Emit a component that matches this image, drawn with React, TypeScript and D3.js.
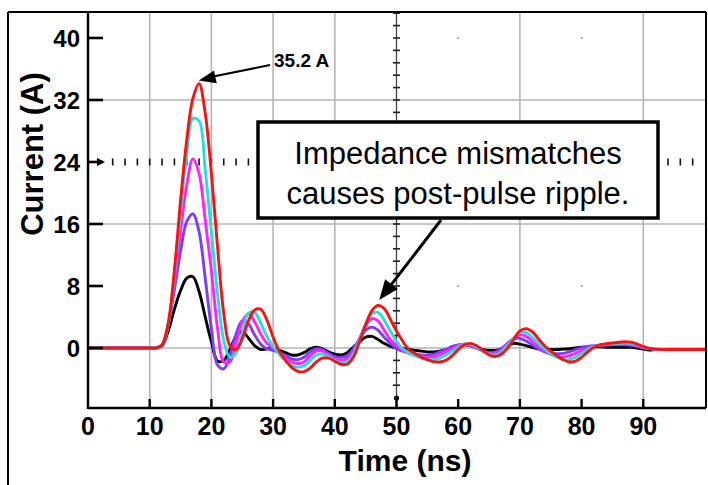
import * as d3 from 'd3'

const W = 708, H = 485

// time axis (ns)
const TIME = [
  0, 5,
  10, 11, 12, 13, 14, 15, 16, 17, 18, 19,
  20, 21, 22, 23, 24, 25, 26, 27, 28, 29,
  30, 31, 32, 33, 34, 35, 36, 37, 38, 39,
  40, 41, 42, 43, 44, 45, 46, 47, 48, 49,
  50, 51, 52, 53, 54, 55, 56, 57, 58, 59,
  60, 61, 62, 63, 64, 65, 66, 67, 68, 69,
  70, 71, 72, 73, 74, 75, 76, 77, 78, 79,
  80, 81, 82, 83, 84, 85, 86, 87, 88, 89,
  90, 91, 92, 93, 94, 95, 96, 97, 98, 99,
  100,
]

// current (A), one list per drive level
const BLACK = [
  0, 0,
  0, 0, 0.3, 2.2, 5.0, 7.4, 9.0, 9.2, 7.3, 4.0,
  0.8, -1.7, -1.6, -0.2, 1.5, 2.1, 1.3, 0.3, -0.2, -0.1,
  -0.1, -0.3, -0.6, -0.9, -0.9, -0.6, -0.1, 0.1, -0.1, -0.5,
  -0.8, -0.9, -0.6, 0.1, 0.8, 1.4, 1.5, 1.1, 0.6, 0.2,
  0.0, -0.1, -0.2, -0.3, -0.4, -0.5, -0.5, -0.4, -0.2, 0.0,
  0.3, 0.4, 0.3, 0.0, -0.2, -0.3, -0.3, -0.1, 0.3, 0.6,
  0.5, 0.3, 0.1, -0.1, -0.2, -0.2, -0.2, -0.15, -0.1, 0.0,
  0.1, 0.15, 0.15, 0.15, 0.1, 0.1, 0.1, 0.1, 0.1, 0.0,
  -0.15, -0.25, -0.2, -0.2, -0.2, -0.2, -0.2, -0.2, -0.2, -0.2,
  -0.2,
]
const PURPLE = [
  0, 0,
  0, 0, 0.4, 3.0, 7.5, 12.5, 16.3, 17.3, 15.0, 9.0,
  2.5, -2.2, -2.7, -1.0, 1.8, 3.5, 3.1, 1.7, 0.5, -0.1,
  -0.3, -0.6, -1.0, -1.4, -1.5, -1.2, -0.5, -0.1, -0.2, -0.7,
  -1.1, -1.2, -1.0, -0.1, 1.2, 2.3, 2.7, 2.3, 1.4, 0.6,
  -0.1, -0.4, -0.6, -0.8, -0.9, -0.9, -0.8, -0.5, -0.2, 0.2,
  0.4, 0.5, 0.3, 0.0, -0.4, -0.6, -0.5, -0.1, 0.6, 1.2,
  1.25, 0.9, 0.4, -0.1, -0.5, -0.7, -0.75, -0.7, -0.5, -0.2,
  0.05, 0.2, 0.3, 0.35, 0.4, 0.4, 0.4, 0.4, 0.35, 0.2,
  0.0, -0.1, -0.2, -0.2, -0.2, -0.2, -0.2, -0.2, -0.2, -0.2,
  -0.2,
]
const MAGENTA = [
  0, 0,
  0, 0, 0.4, 3.0, 8.5, 15.0, 21.0, 24.4, 22.5, 16.5,
  10.0, 2.5, -1.8, -1.8, 0.5, 3.4, 4.4, 3.4, 1.8, 0.6,
  0.0, -0.6, -1.3, -1.8, -2.0, -1.8, -1.0, -0.4, -0.4, -0.9,
  -1.4, -1.6, -1.4, -0.5, 1.2, 2.9, 3.8, 3.5, 2.3, 1.1,
  0.3, -0.3, -0.7, -0.9, -1.1, -1.2, -1.15, -0.9, -0.5, -0.1,
  0.3, 0.5, 0.4, 0.0, -0.4, -0.7, -0.7, -0.3, 0.5, 1.3,
  1.7, 1.5, 0.9, 0.2, -0.4, -0.8, -1.1, -1.15, -1.0, -0.7,
  -0.3, 0.0, 0.25, 0.35, 0.4, 0.45, 0.5, 0.5, 0.45, 0.3,
  0.1, -0.05, -0.15, -0.2, -0.2, -0.2, -0.2, -0.2, -0.2, -0.2,
  -0.2,
]
const CYAN = [
  0, 0,
  0, 0, 0.4, 3.0, 9.5, 17.5, 25.0, 29.6, 29.3, 23.0,
  15.0, 7.0, 1.0, -1.2, -0.6, 2.0, 4.5, 4.6, 3.2, 1.5,
  0.2, -0.8, -1.6, -2.2, -2.5, -2.3, -1.6, -0.9, -0.8, -1.1,
  -1.6, -1.9, -1.8, -0.8, 1.1, 3.1, 4.4, 4.6, 3.6, 2.2,
  0.9, -0.1, -0.6, -1.0, -1.3, -1.5, -1.5, -1.3, -0.9, -0.4,
  0.1, 0.5, 0.5, 0.1, -0.4, -0.8, -0.9, -0.5, 0.3, 1.3,
  2.0, 2.0, 1.4, 0.6, -0.1, -0.7, -1.2, -1.5, -1.5, -1.2,
  -0.7, -0.2, 0.2, 0.4, 0.5, 0.55, 0.6, 0.65, 0.6, 0.4,
  0.15, -0.05, -0.15, -0.2, -0.2, -0.2, -0.2, -0.2, -0.2, -0.2,
  -0.2,
]
const RED = [
  0, 0,
  0, 0, 0.4, 3.2, 10.0, 19.0, 26.8, 32.2, 34.1, 30.3,
  22.5, 13.0, 4.5, 0.3, -0.2, 1.2, 3.5, 4.9, 5.0, 3.6,
  1.4, -0.4, -1.6, -2.5, -3.0, -3.05, -2.6, -1.8, -1.3, -1.3,
  -1.7, -2.1, -2.1, -1.2, 0.8, 3.0, 4.8, 5.5, 5.1, 3.7,
  2.2, 0.9, -0.2, -0.7, -1.2, -1.5, -1.75, -1.8, -1.6, -1.0,
  -0.2, 0.4, 0.6, 0.3, -0.3, -0.9, -1.1, -0.8, 0.0, 1.1,
  2.2, 2.5, 2.1, 1.2, 0.3, -0.4, -1.0, -1.5, -1.8, -1.7,
  -1.2, -0.5, 0.1, 0.4, 0.55, 0.65, 0.75, 0.8, 0.75, 0.5,
  0.2, -0.05, -0.15, -0.2, -0.2, -0.2, -0.2, -0.2, -0.2, -0.2,
  -0.2,
]

const SERIES = [BLACK, PURPLE, MAGENTA, CYAN, RED]
const COLORS = ['#000000', '#7a3cff', '#ff22ff', '#22e0e0', '#ff1010']

const X_TICKS = [0, 10, 20, 30, 40, 50, 60, 70, 80, 90]
const Y_TICKS = [0, 8, 16, 24, 32, 40]
const GRID_X = [10, 20, 30, 40, 70, 90]
const GRID_Y = [0, 16, 32]
const DOT_X = [60, 80]
const DOT_Y = [8, 24, 40]

const PEAK_LABEL = '35.2 A'
const NOTE = ['Impedance mismatches', 'causes post-pulse ripple.']

const FONT = '"Liberation Sans", Arial, Helvetica, sans-serif'

function head(x1: number, y1: number, x2: number, y2: number, len: number, w: number) {
  const a = Math.atan2(y2 - y1, x2 - x1)
  const bx = x2 - len * Math.cos(a), by = y2 - len * Math.sin(a)
  const nx = -Math.sin(a) * w / 2, ny = Math.cos(a) * w / 2
  return `${x2},${y2} ${bx + nx},${by + ny} ${bx - nx},${by - ny}`
}

export default function App() {
  const L = 88, R = 706, T = 12, B = 408
  const x = d3.scaleLinear().domain([0, 100]).range([L, 705])
  const y = d3.scaleLinear().domain([-7.74, 43.35]).range([B, T])

  const line = d3.line<number>()
    .x((_, i) => x(TIME[i]))
    .y(d => y(d))
    .curve(d3.curveCatmullRom.alpha(0.5))

  const rulerX = x(50)
  const rulerDashes = d3.range(-4.8, 43.3, 1.6)
  const hDashes = d3.range(4, 99, 2)

  // annotation geometry
  const tipX = x(17.95), tipY = y(34.5)
  const lblX = 274, lblY = 67
  const a2x1 = 441, a2y1 = 220
  const a2x2 = x(47.2), a2y2 = y(6.2)

  return (
    <svg width={W} height={H} style={{ position: 'absolute', left: 0, top: 0, background: '#fff' }}
      fontFamily={FONT}>
      <defs>
        <clipPath id="plot"><rect x={L} y={T} width={R - L} height={B - T} /></clipPath>
      </defs>

      {/* grid */}
      {GRID_X.map(v => (
        <line key={'gx' + v} x1={x(v)} x2={x(v)} y1={T} y2={B} stroke="#b5b5b5" strokeWidth={1.6} />
      ))}
      {GRID_Y.map(v => (
        <line key={'gy' + v} x1={L} x2={R} y1={y(v)} y2={y(v)} stroke="#b5b5b5" strokeWidth={1.6} />
      ))}
      {DOT_X.flatMap(a => DOT_Y.map(b => (
        <rect key={`d${a}-${b}`} x={x(a) - 1} y={y(b) - 1} width={2} height={2} fill="#aaa" />
      )))}

      {/* horizontal cursor at 24 A */}
      {hDashes.map(v => (
        <line key={'hd' + v} x1={x(v)} x2={x(v)} y1={y(24) - 3.5} y2={y(24) + 3.5} stroke="#111" strokeWidth={1.6} />
      ))}

      {/* vertical cursor at 50 ns */}
      <line x1={rulerX} x2={rulerX} y1={T} y2={B} stroke="#444" strokeWidth={1.3} />
      {rulerDashes.map(v => (
        <line key={'vd' + v} x1={rulerX - 3.5} x2={rulerX + 3.5} y1={y(v)} y2={y(v)} stroke="#222" strokeWidth={1.6} />
      ))}
      <line x1={rulerX} x2={rulerX} y1={B - 10} y2={B} stroke="#000" strokeWidth={2.5} />
      <circle cx={rulerX} cy={B - 10} r={2.6} fill="#000" />

      {/* curves */}
      <g clipPath="url(#plot)">
        {SERIES.map((s, i) => (
          <path key={i} d={line(s) ?? ''} fill="none" stroke={COLORS[i]} strokeWidth={2.9}
            strokeLinejoin="round" strokeLinecap="round" />
        ))}
      </g>

      {/* y ticks */}
      {Y_TICKS.map(v => (
        <g key={'yt' + v}>
          <line x1={L} x2={L + 15} y1={y(v)} y2={y(v)} stroke="#000" strokeWidth={2.6} />
          <text x={80} y={y(v)} dy="0.36em" textAnchor="end" fontSize={24} fontWeight="bold">{v}</text>
        </g>
      ))}
      <polygon points={head(L, y(24), L + 17, y(24), 8, 8)} fill="#000" />

      {/* x ticks */}
      {X_TICKS.map(v => (
        <g key={'xt' + v}>
          {v > 0 && v !== 50 && (
            <line x1={x(v)} x2={x(v)} y1={B - 9} y2={B} stroke="#000" strokeWidth={2.4} />
          )}
          <text x={x(v)} y={435} textAnchor="middle" fontSize={25} fontWeight="bold">{v}</text>
        </g>
      ))}

      {/* frame and axes */}
      <line x1={8} x2={8} y1={T} y2={H} stroke="#000" strokeWidth={2} />
      <line x1={8} x2={R} y1={T} y2={T} stroke="#000" strokeWidth={2.2} />
      <line x1={R} x2={R} y1={T} y2={B} stroke="#000" strokeWidth={2} />
      <line x1={L} x2={L} y1={T} y2={B + 1} stroke="#000" strokeWidth={2.4} />
      <line x1={L} x2={R} y1={B} y2={B} stroke="#000" strokeWidth={2.6} />

      {/* axis titles */}
      <text x={405} y={471} textAnchor="middle" fontSize={30} fontWeight="bold">Time (ns)</text>
      <text transform="translate(43,154) rotate(-90)" textAnchor="middle" fontSize={31} fontWeight="bold">
        Current (A)
      </text>

      {/* peak annotation */}
      <line x1={lblX - 4} y1={lblY - 2} x2={tipX + 12} y2={tipY - 3.5} stroke="#000" strokeWidth={2} />
      <polygon points={head(lblX - 4, lblY - 2, tipX, tipY, 17, 13)} fill="#000" />
      <text x={lblX} y={lblY} fontSize={19} fontWeight="bold">{PEAK_LABEL}</text>

      {/* note box */}
      <rect x={258} y={122} width={400} height={96} fill="#fff" stroke="#000" strokeWidth={3.5} />
      {NOTE.map((t, i) => (
        <text key={i} x={458} y={164 + i * 40} textAnchor="middle" fontSize={31}>{t}</text>
      ))}
      <line x1={a2x1} y1={a2y1} x2={a2x2 + 8} y2={a2y2 - 10} stroke="#000" strokeWidth={3} />
      <polygon points={head(a2x1, a2y1, a2x2, a2y2, 20, 16)} fill="#000" />
    </svg>
  )
}
